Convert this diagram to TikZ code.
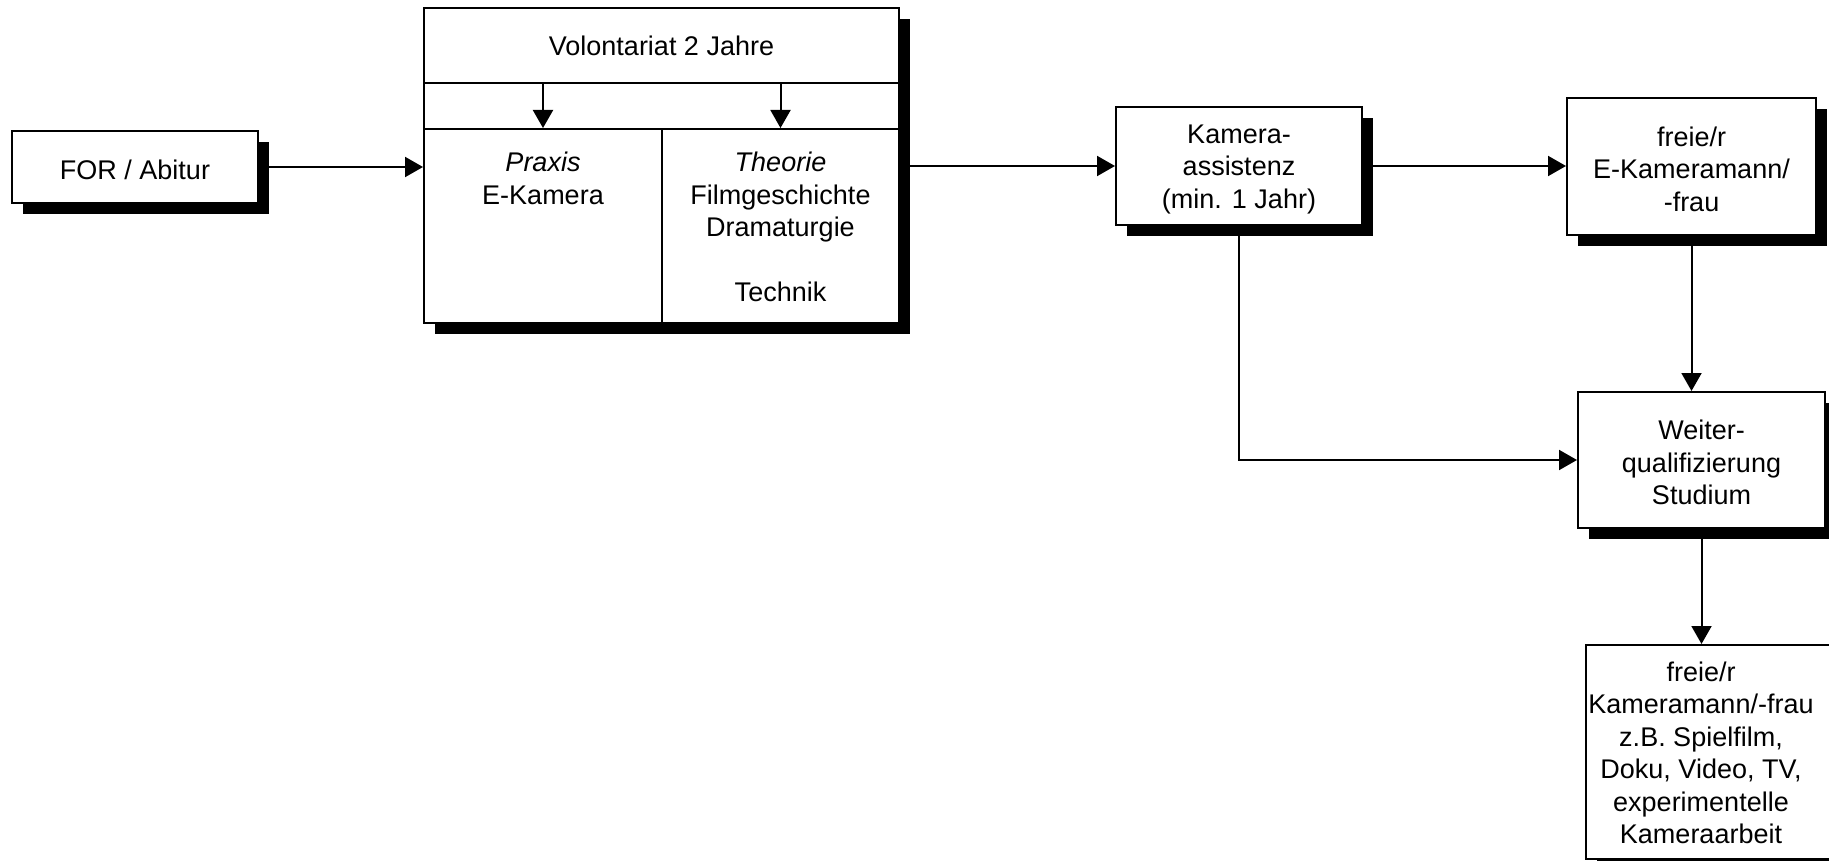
\documentclass[tikz,border=0pt]{standalone}
\usepackage{fontspec}
\setmainfont{Liberation Sans}
\usetikzlibrary{arrows.meta,calc,shadows}

% extra room above the first line, sets the text a little lower in its box
\newcommand\firstline{\rule{0pt}{25pt}}

\begin{document}
\begin{tikzpicture}[x=1pt,y=-1pt,
  txt/.style={font=\fontsize{27}{32.5}\selectfont, align=center, inner sep=0pt},
  cell/.style={draw=black, line width=2pt, rectangle, inner sep=0pt, txt},
  box/.style={cell, fill=white,
    drop shadow={shadow xshift=11pt, shadow yshift=-11pt, opacity=1, fill=black}},
  conn/.style={line width=2pt, -{Triangle[length=18pt,width=20pt]}}]

\useasboundingbox (0,0) rectangle (1829,861);
\clip (0,0) rectangle (1829,861);

% entry
\node[box, minimum width=246pt, minimum height=72pt] (abi) at (135,167) {\firstline FOR / Abitur};

% traineeship block: title band, link band, practice and theory cells
\node[box, minimum width=475pt, minimum height=315pt] (vol) at (661.5,165.5) {};
\node[cell, minimum width=475pt, minimum height=75pt] (voltop) at (661.5,45.5) {Volontariat 2 Jahre};
\node[cell, minimum width=238pt, minimum height=194pt] (praxis) at (543,226) {};
\node[cell, minimum width=237pt, minimum height=194pt] (theorie) at (780.5,226) {};
\node[txt, anchor=north] (praxistxt) at ($(praxis.north)+(0,24)$) {\textit{Praxis}\\E-Kamera};
\node[txt, anchor=north] (theorietxt) at ($(theorie.north)+(0,24)$)
  {\textit{Theorie}\\Filmgeschichte\\Dramaturgie\\[32.5pt]Technik};
\draw[conn] (voltop.south -| praxis.north) -- (praxis.north);
\draw[conn] (voltop.south -| theorie.north) -- (theorie.north);

% career steps
\node[box, minimum width=246pt, minimum height=118pt] (kam) at (1239,166)
  {\firstline Kamera-\\assistenz\\(min. 1 Jahr)};
\node[box, minimum width=249pt, minimum height=137pt] (freie) at (1691.5,166.5)
  {\firstline freie/r\\E-Kameramann/\\-frau};
\node[box, minimum width=247pt, minimum height=136pt] (weiter) at (1701.5,460)
  {\firstline Weiter-\\qualifizierung\\Studium};
\node[box, minimum width=254pt, minimum height=214pt] (last) at (1713,752) {};
\node[txt] (lasttxt) at (1701,753)
  {freie/r\\Kameramann/-frau\\z.B. Spielfilm,\\Doku, Video, TV,\\experimentelle\\Kameraarbeit};

% connectors
\draw[conn] (abi.east) -- (abi.east -| vol.west);
\draw[conn] (vol.east |- kam.west) -- (kam.west);
\draw[conn] (kam.east) -- (kam.east -| freie.west);
\draw[conn] (freie.south) -- (freie.south |- weiter.north);
\draw[conn] (kam.south) |- (weiter.west);
\draw[conn] (weiter.south) -- (weiter.south |- last.north);
\end{tikzpicture}
\end{document}
